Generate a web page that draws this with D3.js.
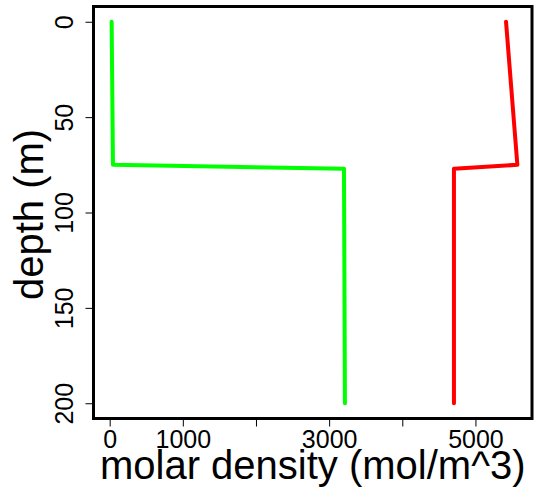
<!DOCTYPE html>
<html>
<head>
<meta charset="utf-8">
<script src="https://cdn.jsdelivr.net/npm/d3@7"></script>
<style>
  html, body { margin: 0; padding: 0; background: #fff; }
  svg { display: block; font-family: "Liberation Sans", Arial, sans-serif; }
</style>
</head>
<body>
<svg id="chart" width="535" height="492"></svg>
<script>
// ---- data ----
const depth = [0, 75, 77, 200];
const greenSeries = [27, 45, 3203, 3216];
const redSeries = [5418, 5573, 4706, 4706];
const xTicks = [0, 1000, 2000, 3000, 4000, 5000];
const xTickLabels = ["0", "1000", "", "3000", "", "5000"];
const yTicks = [0, 50, 100, 150, 200];
const yTickLabels = ["0", "50", "100", "150", "200"];
const xTitle = "molar density (mol/m^3)";
const yTitle = "depth (m)";

// ---- layout ----
const plotL = 93.5, plotR = 532, plotT = 6.5, plotB = 418.5;
const svg = d3.select("#chart");

const x = d3.scaleLinear().domain([-221, 5773]).range([plotL, plotR]);
const y = d3.scaleLinear().domain([-8, 208]).range([plotT, plotB]);

const line = d3.line()
  .x(d => x(d.v))
  .y(d => y(d.d));

const series = [
  { values: greenSeries, color: "#00ff00" },
  { values: redSeries, color: "#ff0000" }
];

series.forEach(s => {
  const pts = depth.map((d, i) => ({ d: d, v: s.values[i] }));
  svg.append("path")
    .datum(pts)
    .attr("d", line)
    .attr("fill", "none")
    .attr("stroke", s.color)
    .attr("stroke-width", 4)
    .attr("stroke-linejoin", "round")
    .attr("stroke-linecap", "round");
});

// ---- axes ----
const xAxis = d3.axisBottom(x)
  .tickValues(xTicks)
  .tickSize(8)
  .tickFormat((d, i) => xTickLabels[i]);

const gx = svg.append("g")
  .attr("transform", `translate(0,${plotB})`)
  .call(xAxis);
gx.select(".domain").remove();
gx.selectAll(".tick line").attr("stroke", "#000").attr("stroke-width", 1);
gx.selectAll(".tick text")
  .attr("y", 29.2)
  .attr("dy", 0)
  .attr("fill", "#000")
  .style("font-size", "25px")
  .style("font-family", "'Liberation Sans', Arial, sans-serif");

const yAxis = d3.axisLeft(y)
  .tickValues(yTicks)
  .tickSize(8)
  .tickFormat((d, i) => yTickLabels[i]);

const gy = svg.append("g")
  .attr("transform", `translate(${plotL},0)`)
  .call(yAxis);
gy.select(".domain").remove();
gy.selectAll(".tick line").attr("stroke", "#000").attr("stroke-width", 1);
gy.selectAll(".tick text")
  .attr("x", 0)
  .attr("y", 0)
  .attr("dy", 0)
  .attr("transform", "translate(-20.5,0) rotate(-90)")
  .attr("text-anchor", "middle")
  .attr("fill", "#000")
  .style("font-size", "25px")
  .style("font-family", "'Liberation Sans', Arial, sans-serif");

// ---- box ----
svg.append("rect")
  .attr("x", plotL)
  .attr("y", plotT)
  .attr("width", plotR - plotL)
  .attr("height", plotB - plotT)
  .attr("fill", "none")
  .attr("stroke", "#000")
  .attr("stroke-width", 3);

// ---- titles ----
svg.append("text")
  .attr("x", (plotL + plotR) / 2)
  .attr("y", 479)
  .attr("text-anchor", "middle")
  .style("font-size", "40px")
  .text(xTitle);

svg.append("text")
  .attr("transform", `translate(43,${(plotT + plotB) / 2 + 2}) rotate(-90)`)
  .attr("text-anchor", "middle")
  .style("font-size", "40px")
  .text(yTitle);
</script>
</body>
</html>
